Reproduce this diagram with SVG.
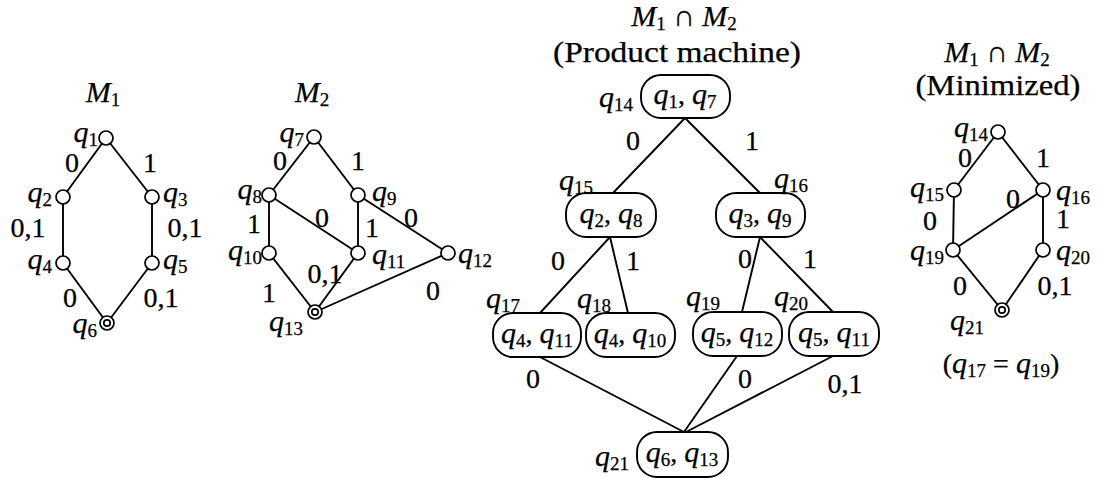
<svg xmlns="http://www.w3.org/2000/svg" width="1097" height="478" viewBox="0 0 1097 478">
<style>
.t{font-family:"Liberation Serif","DejaVu Serif",serif;font-size:28px;fill:#000;stroke:#000;stroke-width:0.25}
.i{font-style:italic;font-size:30px}
.s{font-size:19px;font-style:normal}
.m{text-anchor:middle}
.e{text-anchor:end}
.h{font-size:30px}
.n{fill:#fff;stroke:#000;stroke-width:1.7}
.b{fill:#fff;stroke:#000;stroke-width:1.9}
.c line{stroke:#000;stroke-width:1.9}
</style>
<rect width="1097" height="478" fill="#fff"/>

<g id="titles">
<text class="t m" x="103" y="102"><tspan class="i">M</tspan><tspan class="s" dy="4">1</tspan></text>
<text class="t m" x="312" y="102"><tspan class="i">M</tspan><tspan class="s" dy="4">2</tspan></text>
<text class="t m h" x="684" y="26"><tspan class="i">M</tspan><tspan class="s" dy="4">1</tspan><tspan dy="-4"> ∩ </tspan><tspan class="i">M</tspan><tspan class="s" dy="4">2</tspan></text>
<text class="t m h" x="677" y="62" textLength="248" lengthAdjust="spacingAndGlyphs">(Product machine)</text>
<text class="t m h" x="997" y="62"><tspan class="i">M</tspan><tspan class="s" dy="4">1</tspan><tspan dy="-4"> ∩ </tspan><tspan class="i">M</tspan><tspan class="s" dy="4">2</tspan></text>
<text class="t m h" x="998" y="95" textLength="165" lengthAdjust="spacingAndGlyphs">(Minimized)</text>
</g>

<g id="connectors" class="c">
<line x1="106" y1="138" x2="63" y2="197"/>
<line x1="106" y1="138" x2="152" y2="197"/>
<line x1="63" y1="197" x2="63" y2="263"/>
<line x1="152" y1="197" x2="152" y2="263"/>
<line x1="63" y1="263" x2="107" y2="323"/>
<line x1="152" y1="263" x2="107" y2="323"/>
<line x1="314" y1="137" x2="269" y2="195"/>
<line x1="314" y1="137" x2="358" y2="195"/>
<line x1="269" y1="195" x2="269" y2="253"/>
<line x1="269" y1="195" x2="358" y2="253"/>
<line x1="358" y1="195" x2="358" y2="253"/>
<line x1="358" y1="195" x2="448" y2="253"/>
<line x1="269" y1="253" x2="315" y2="312"/>
<line x1="358" y1="253" x2="315" y2="312"/>
<line x1="448" y1="253" x2="315" y2="312"/>
<line x1="685" y1="118" x2="613" y2="193"/>
<line x1="685" y1="118" x2="760" y2="193"/>
<line x1="610" y1="237" x2="540" y2="313"/>
<line x1="610" y1="237" x2="628" y2="313"/>
<line x1="760" y1="237" x2="742" y2="312"/>
<line x1="760" y1="237" x2="833" y2="312"/>
<line x1="540" y1="357" x2="684" y2="432"/>
<line x1="737" y1="356" x2="684" y2="432"/>
<line x1="833" y1="356" x2="686" y2="432"/>
<line x1="998" y1="132" x2="954" y2="190"/>
<line x1="998" y1="132" x2="1043" y2="190"/>
<line x1="954" y1="190" x2="953" y2="250"/>
<line x1="1043" y1="190" x2="953" y2="250"/>
<line x1="1043" y1="190" x2="1043" y2="250"/>
<line x1="953" y1="250" x2="1002" y2="310"/>
<line x1="1043" y1="250" x2="1002" y2="310"/>
</g>

<g id="edge-labels" class="t m">
<text x="72" y="172">0</text>
<text x="150" y="172">1</text>
<text x="28" y="237">0,1</text>
<text x="185" y="237">0,1</text>
<text x="70" y="307">0</text>
<text x="161" y="307">0,1</text>
<text x="280" y="170">0</text>
<text x="358" y="170">1</text>
<text x="254" y="233">1</text>
<text x="322" y="227">0</text>
<text x="372" y="237">1</text>
<text x="411" y="227">0</text>
<text x="325" y="283">0,1</text>
<text x="269" y="302">1</text>
<text x="433" y="300">0</text>
<text x="633" y="150">0</text>
<text x="752" y="150">1</text>
<text x="558" y="270">0</text>
<text x="633" y="270">1</text>
<text x="745" y="268">0</text>
<text x="810" y="268">1</text>
<text x="533" y="388">0</text>
<text x="745" y="388">0</text>
<text x="845" y="393">0,1</text>
<text x="965" y="167">0</text>
<text x="1043" y="167">1</text>
<text x="1013" y="208">0</text>
<text x="930" y="230">0</text>
<text x="1063" y="228">1</text>
<text x="960" y="295">0</text>
<text x="1055" y="295">0,1</text>
</g>

<g id="m1-q1"><circle class="n" cx="106" cy="138" r="7"/><text class="t e" x="98" y="142"><tspan class="i">q</tspan><tspan class="s" dy="4">1</tspan></text></g>
<g id="m1-q2"><circle class="n" cx="63" cy="197" r="7"/><text class="t e" x="52" y="202"><tspan class="i">q</tspan><tspan class="s" dy="4">2</tspan></text></g>
<g id="m1-q3"><circle class="n" cx="152" cy="197" r="7"/><text class="t" x="163" y="202"><tspan class="i">q</tspan><tspan class="s" dy="4">3</tspan></text></g>
<g id="m1-q4"><circle class="n" cx="63" cy="263" r="7"/><text class="t e" x="52" y="269"><tspan class="i">q</tspan><tspan class="s" dy="4">4</tspan></text></g>
<g id="m1-q5"><circle class="n" cx="152" cy="263" r="7"/><text class="t" x="163" y="269"><tspan class="i">q</tspan><tspan class="s" dy="4">5</tspan></text></g>
<g id="m1-q6"><circle class="n" cx="107" cy="323" r="7"/><circle class="n" cx="107" cy="323" r="3.2"/><text class="t e" x="97" y="333"><tspan class="i">q</tspan><tspan class="s" dy="4">6</tspan></text></g>

<g id="m2-q7"><circle class="n" cx="314" cy="137" r="7"/><text class="t e" x="304" y="142"><tspan class="i">q</tspan><tspan class="s" dy="4">7</tspan></text></g>
<g id="m2-q8"><circle class="n" cx="269" cy="195" r="7"/><text class="t e" x="262" y="199"><tspan class="i">q</tspan><tspan class="s" dy="4">8</tspan></text></g>
<g id="m2-q9"><circle class="n" cx="358" cy="195" r="7"/><text class="t" x="372" y="201"><tspan class="i">q</tspan><tspan class="s" dy="4">9</tspan></text></g>
<g id="m2-q10"><circle class="n" cx="269" cy="253" r="7"/><text class="t e" x="262" y="260"><tspan class="i">q</tspan><tspan class="s" dy="4">10</tspan></text></g>
<g id="m2-q11"><circle class="n" cx="358" cy="253" r="7"/><text class="t" x="372" y="264"><tspan class="i">q</tspan><tspan class="s" dy="4">11</tspan></text></g>
<g id="m2-q12"><circle class="n" cx="448" cy="253" r="7"/><text class="t" x="458" y="263"><tspan class="i">q</tspan><tspan class="s" dy="4">12</tspan></text></g>
<g id="m2-q13"><circle class="n" cx="315" cy="312" r="7"/><circle class="n" cx="315" cy="312" r="3.2"/><text class="t e" x="303" y="331"><tspan class="i">q</tspan><tspan class="s" dy="4">13</tspan></text></g>

<g id="p-q14"><rect class="b" x="641" y="75" width="89" height="43" rx="20"/><text class="t m" x="685" y="104"><tspan class="i">q</tspan><tspan class="s" dy="4">1</tspan><tspan dy="-4">, </tspan><tspan class="i">q</tspan><tspan class="s" dy="4">7</tspan></text><text class="t e" x="633" y="107"><tspan class="i">q</tspan><tspan class="s" dy="4">14</tspan></text></g>
<g id="p-q15"><rect class="b" x="566" y="193" width="90" height="44" rx="20"/><text class="t m" x="611" y="223"><tspan class="i">q</tspan><tspan class="s" dy="4">2</tspan><tspan dy="-4">, </tspan><tspan class="i">q</tspan><tspan class="s" dy="4">8</tspan></text><text class="t" x="559" y="190"><tspan class="i">q</tspan><tspan class="s" dy="4">15</tspan></text></g>
<g id="p-q16"><rect class="b" x="716" y="193" width="89" height="44" rx="20"/><text class="t m" x="760" y="223"><tspan class="i">q</tspan><tspan class="s" dy="4">3</tspan><tspan dy="-4">, </tspan><tspan class="i">q</tspan><tspan class="s" dy="4">9</tspan></text><text class="t" x="774" y="188"><tspan class="i">q</tspan><tspan class="s" dy="4">16</tspan></text></g>
<g id="p-q17"><rect class="b" x="493" y="313" width="88" height="44" rx="20"/><text class="t m" x="537" y="343"><tspan class="i">q</tspan><tspan class="s" dy="4">4</tspan><tspan dy="-4">, </tspan><tspan class="i">q</tspan><tspan class="s" dy="4">11</tspan></text><text class="t" x="486" y="308"><tspan class="i">q</tspan><tspan class="s" dy="4">17</tspan></text></g>
<g id="p-q18"><rect class="b" x="586" y="313" width="89" height="44" rx="20"/><text class="t m" x="630" y="343"><tspan class="i">q</tspan><tspan class="s" dy="4">4</tspan><tspan dy="-4">, </tspan><tspan class="i">q</tspan><tspan class="s" dy="4">10</tspan></text><text class="t" x="577" y="308"><tspan class="i">q</tspan><tspan class="s" dy="4">18</tspan></text></g>
<g id="p-q19"><rect class="b" x="693" y="312" width="89" height="44" rx="20"/><text class="t m" x="737" y="342"><tspan class="i">q</tspan><tspan class="s" dy="4">5</tspan><tspan dy="-4">, </tspan><tspan class="i">q</tspan><tspan class="s" dy="4">12</tspan></text><text class="t" x="686" y="306"><tspan class="i">q</tspan><tspan class="s" dy="4">19</tspan></text></g>
<g id="p-q20"><rect class="b" x="789" y="312" width="90" height="44" rx="20"/><text class="t m" x="834" y="342"><tspan class="i">q</tspan><tspan class="s" dy="4">5</tspan><tspan dy="-4">, </tspan><tspan class="i">q</tspan><tspan class="s" dy="4">11</tspan></text><text class="t" x="774" y="306"><tspan class="i">q</tspan><tspan class="s" dy="4">20</tspan></text></g>
<g id="p-q21"><rect class="b" x="637" y="432" width="91" height="45" rx="20"/><text class="t m" x="682" y="462"><tspan class="i">q</tspan><tspan class="s" dy="4">6</tspan><tspan dy="-4">, </tspan><tspan class="i">q</tspan><tspan class="s" dy="4">13</tspan></text><text class="t e" x="629" y="466"><tspan class="i">q</tspan><tspan class="s" dy="4">21</tspan></text></g>

<g id="min-q14"><circle class="n" cx="998" cy="132" r="7"/><text class="t e" x="988" y="137"><tspan class="i">q</tspan><tspan class="s" dy="4">14</tspan></text></g>
<g id="min-q15"><circle class="n" cx="954" cy="190" r="7"/><text class="t e" x="944" y="197"><tspan class="i">q</tspan><tspan class="s" dy="4">15</tspan></text></g>
<g id="min-q16"><circle class="n" cx="1043" cy="190" r="7"/><text class="t" x="1056" y="200"><tspan class="i">q</tspan><tspan class="s" dy="4">16</tspan></text></g>
<g id="min-q19"><circle class="n" cx="953" cy="250" r="7"/><text class="t e" x="944" y="260"><tspan class="i">q</tspan><tspan class="s" dy="4">19</tspan></text></g>
<g id="min-q20"><circle class="n" cx="1043" cy="250" r="7"/><text class="t" x="1056" y="260"><tspan class="i">q</tspan><tspan class="s" dy="4">20</tspan></text></g>
<g id="min-q21"><circle class="n" cx="1002" cy="310" r="7"/><circle class="n" cx="1002" cy="310" r="3.2"/><text class="t e" x="984" y="330"><tspan class="i">q</tspan><tspan class="s" dy="4">21</tspan></text></g>

<g id="note"><text class="t m" x="1001" y="373">(<tspan class="i">q</tspan><tspan class="s" dy="4">17</tspan><tspan dy="-4"> = </tspan><tspan class="i">q</tspan><tspan class="s" dy="4">19</tspan><tspan dy="-4">)</tspan></text></g>
</svg>
